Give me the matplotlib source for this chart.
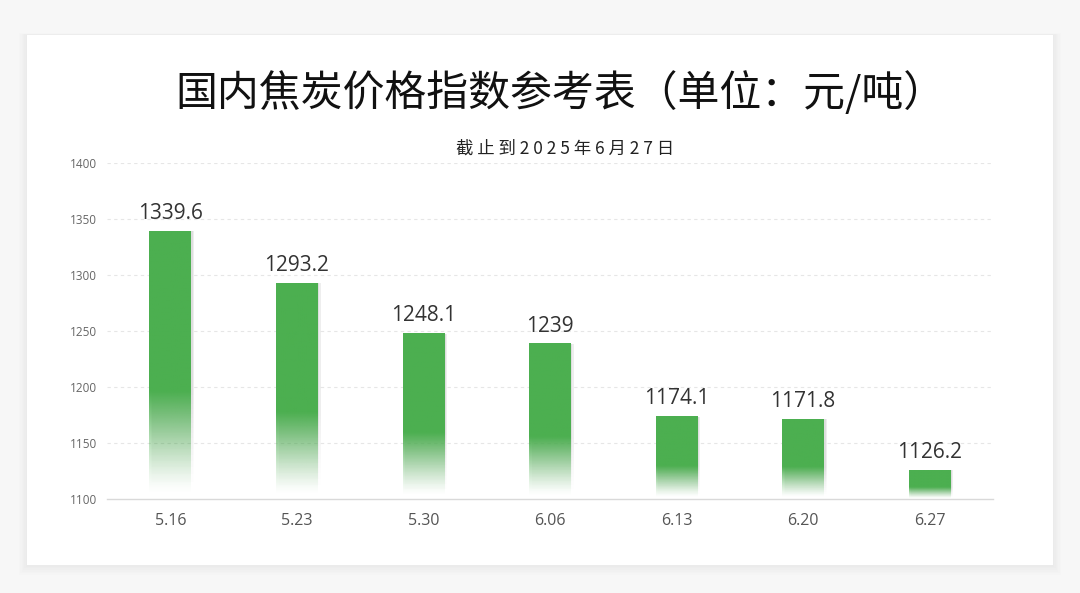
import numpy as np
import matplotlib.pyplot as plt
from matplotlib.patches import FancyBboxPatch
from matplotlib.colors import to_rgb

plt.rcParams['font.family'] = ['Open Sans', 'Noto Sans CJK SC', 'DejaVu Sans']

# data
dates = ['5.16', '5.23', '5.30', '6.06', '6.13', '6.20', '6.27']
prices = [1339.6, 1293.2, 1248.1, 1239, 1174.1, 1171.8, 1126.2]
labels = ['1339.6', '1293.2', '1248.1', '1239', '1174.1', '1171.8', '1126.2']
yticks = [1100, 1150, 1200, 1250, 1300, 1350, 1400]

green = '#4caf50'
ymin, ymax = 1100, 1400

fig = plt.figure(figsize=(10.8, 5.93), dpi=100)
fig.patch.set_facecolor('#f7f7f7')

# card with soft shadow
cx0, cy0, cw, ch = 27 / 1080, 1 - 565 / 593, 1026 / 1080, 530 / 593
for i in range(6):
    d = (6 - i) * 0.0022
    fig.patches.append(FancyBboxPatch((cx0 - d * 0.55, cy0 - d * 1.3), cw + d * 1.1, ch + d * 1.5,
                                      boxstyle='square,pad=0', transform=fig.transFigure,
                                      facecolor='black', edgecolor='none', alpha=0.008, zorder=0))
fig.patches.append(FancyBboxPatch((cx0, cy0), cw, ch, boxstyle='square,pad=0',
                                  transform=fig.transFigure, facecolor='white',
                                  edgecolor='none', zorder=1))

fig.text(0.519, 0.843, '国内焦炭价格指数参考表（单位：元/吨）', ha='center', va='center',
         fontsize=30.2, color='#111111', family=['Noto Sans CJK SC', 'DejaVu Sans'], zorder=3)
fig.text(0.523, 0.75, ' '.join('截止到2025年6月27日'), ha='center', va='center',
         fontsize=12.5, color='#222222', family=['Noto Sans CJK SC', 'DejaVu Sans'], zorder=3)

ax = fig.add_axes([107 / 1080, 1 - 499 / 593, 886 / 1080, 336 / 593])
ax.set_facecolor('none')
ax.set_zorder(2)

x = np.arange(len(dates))
w = 0.33
bars = ax.bar(x, np.array(prices) - ymin, bottom=ymin, width=w, color='none', edgecolor='none')

rgb = to_rgb(green)
n = 200
t = np.linspace(0, 1, n)  # 0 at bottom of bar
alpha = np.clip((t - 0.02) / 0.38, 0, 1) ** 1.3
for xi, v, lab, b in zip(x, prices, labels, bars):
    # faint shadow to the right, fading like the bar
    sh = np.zeros((n, 1, 4))
    sh[:, 0, 3] = alpha * 0.07
    for off in [0.01, 0.02]:
        ax.imshow(sh, extent=[xi - w / 2 + off, xi + w / 2 + off, ymin, v - 1],
                  origin='lower', aspect='auto', zorder=1, interpolation='bilinear')
    img = np.zeros((n, 1, 4))
    img[:, 0, :3] = rgb
    img[:, 0, 3] = alpha
    im = ax.imshow(img, extent=[xi - w / 2, xi + w / 2, ymin, v], origin='lower',
                   aspect='auto', zorder=2, interpolation='bilinear')
    im.set_clip_path(b)
    ax.text(xi, v + 6, lab, ha='center', va='bottom', fontsize=15, color='#333333')

ax.set_xlim(-0.5, len(dates) - 0.5)
ax.set_ylim(ymin, ymax)
ax.set_yticks(yticks)
ax.set_yticklabels([str(t) for t in yticks], fontsize=8.5, color='#666666')
ax.set_xticks(x)
ax.set_xticklabels(dates, fontsize=11.5, color='#555555')
ax.tick_params(axis='both', length=0)
ax.tick_params(axis='y', pad=7)
ax.tick_params(axis='x', pad=10)
for tk in yticks[1:]:
    ax.axhline(tk, color='#e6e6e6', lw=0.8, ls=(0, (3, 3)), zorder=0)
for s in ['top', 'right', 'left']:
    ax.spines[s].set_visible(False)
ax.spines['bottom'].set_color('#d9d9d9')
ax.spines['bottom'].set_linewidth(1)

fig.savefig('out.png', dpi=100, facecolor=fig.get_facecolor())
